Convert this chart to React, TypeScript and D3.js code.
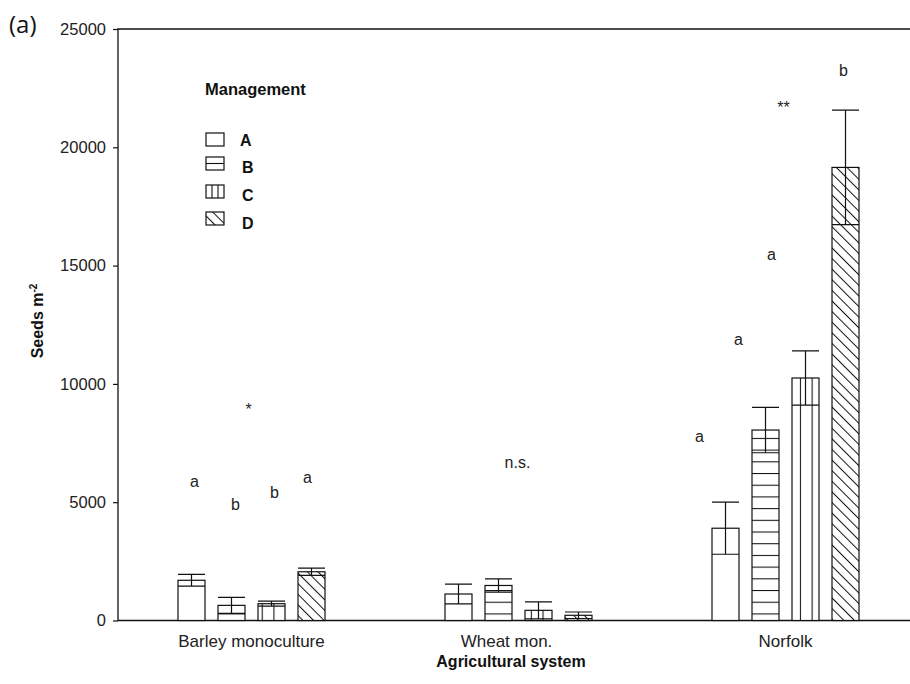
import React, { useEffect, useRef } from 'react';
import * as d3 from 'd3';

// data
const categories = ['Barley monoculture', 'Wheat mon.', 'Norfolk'];
const managements = ['A', 'B', 'C', 'D'];
const meanA = [1700, 1120, 3900];
const meanB = [640, 1480, 8050];
const meanC = [710, 430, 10250];
const meanD = [2060, 220, 19150];
const errA = [250, 420, 1100];
const errB = [340, 280, 960];
const errC = [105, 360, 1150];
const errD = [150, 140, 2420];
const yTicks = [0, 5000, 10000, 15000, 20000, 25000];

// significance letters: category, bar (or null for the group), y in seeds
const sigLetters = [
    { cat: 0, ser: 'A', y: 5660, text: 'a', dx: 3 },
    { cat: 0, ser: 'B', y: 4690, text: 'b', dx: 4 },
    { cat: 0, ser: 'C', y: 5190, text: 'b', dx: 3 },
    { cat: 0, ser: 'D', y: 5830, text: 'a', dx: -4 },
    { cat: 0, ser: null, y: 8700, text: '*', dx: -3 },
    { cat: 1, ser: null, y: 6460, text: 'n.s.', dx: -1 },
    { cat: 2, ser: 'A', y: 7560, text: 'a', dx: -26 },
    { cat: 2, ser: 'B', y: 11660, text: 'a', dx: -27 },
    { cat: 2, ser: 'C', y: 15250, text: 'a', dx: -34 },
    { cat: 2, ser: 'D', y: 23000, text: 'b', dx: -2 },
    { cat: 2, ser: null, y: 21450, text: '**', dx: -2 },
];

const means = [meanA, meanB, meanC, meanD];
const errs = [errA, errB, errC, errD];
const fills = ['#fff', 'url(#patB)', 'url(#patC)', 'url(#patD)'];

function App() {
    const svgRef = useRef<SVGSVGElement>(null);

    useEffect(() => {
        const svg = d3.select(svgRef.current);
        svg.selectAll('*').remove();

        const width = 910;
        const height = 684;
        const margin = { top: 29, left: 118, bottom: 63 };
        const font = '"Liberation Sans", Arial, sans-serif';
        const ink = '#111';

        svg.append('rect').attr('width', width).attr('height', height).attr('fill', '#fff');

        // hatch patterns
        const defs = svg.append('defs');
        const pB = defs.append('pattern').attr('id', 'patB')
            .attr('patternUnits', 'userSpaceOnUse').attr('y', 5).attr('width', 10).attr('height', 11.7);
        pB.append('rect').attr('width', 10).attr('height', 11.7).attr('fill', '#fff');
        pB.append('line').attr('x1', 0).attr('x2', 10).attr('y1', 0.5).attr('y2', 0.5)
            .attr('stroke', ink).attr('stroke-width', 1.1);
        const pC = defs.append('pattern').attr('id', 'patC')
            .attr('patternUnits', 'userSpaceOnUse').attr('x', 4.3).attr('width', 11.7).attr('height', 10);
        pC.append('rect').attr('width', 11.7).attr('height', 10).attr('fill', '#fff');
        pC.append('line').attr('x1', 0.5).attr('x2', 0.5).attr('y1', 0).attr('y2', 10)
            .attr('stroke', ink).attr('stroke-width', 1.1);
        const pD = defs.append('pattern').attr('id', 'patD')
            .attr('patternUnits', 'userSpaceOnUse').attr('width', 7.5).attr('height', 7.5)
            .attr('patternTransform', 'rotate(-45)');
        pD.append('rect').attr('width', 7.5).attr('height', 7.5).attr('fill', '#fff');
        pD.append('line').attr('x1', 0.5).attr('x2', 0.5).attr('y1', 0).attr('y2', 7.5)
            .attr('stroke', ink).attr('stroke-width', 1);

        const x0 = d3.scaleBand().domain(categories).range([margin.left, margin.left + 801]);
        const x1 = d3.scaleBand().domain(managements).range([-80, 80])
            .paddingInner(0.325).paddingOuter(0.1625);
        const y = d3.scaleLinear().domain([0, 25000]).range([height - margin.bottom - 0.5, margin.top]);

        // frame
        const right = margin.left + 801;
        svg.append('path')
            .attr('d', `M${right},${margin.top}H${margin.left}V${y(0)}H${right}`)
            .attr('fill', 'none').attr('stroke', ink).attr('stroke-width', 1.3);

        // y axis
        const yAxis = svg.append('g')
            .attr('transform', `translate(${margin.left},0)`)
            .call(d3.axisLeft(y).tickValues(yTicks).tickSize(5).tickPadding(7).tickFormat(d3.format('d')));
        yAxis.select('.domain').remove();
        yAxis.selectAll('line').attr('stroke', ink).attr('stroke-width', 1.2);
        yAxis.selectAll('text').style('font-family', font).style('font-size', '16.5px').style('fill', '#222');

        // bars
        const bw = x1.bandwidth();
        categories.forEach((cat, ci) => {
            managements.forEach((m, si) => {
                const cx = x0(cat)! + x0.bandwidth() / 2 + x1(m)! + bw / 2;
                const v = means[si][ci];
                const e = errs[si][ci];
                const g = svg.append('g');
                g.append('rect')
                    .attr('x', cx - bw / 2).attr('y', y(v))
                    .attr('width', bw).attr('height', y(0) - y(v))
                    .attr('fill', fills[si]).attr('stroke', ink).attr('stroke-width', 1.2);
                const lo = Math.max(0, v - e);
                g.append('path')
                    .attr('d', `M${cx},${y(lo)}V${y(v + e)}M${cx - bw / 2},${y(v + e)}H${cx + bw / 2}M${cx - bw / 2},${y(lo)}H${cx + bw / 2}`)
                    .attr('fill', 'none').attr('stroke', ink).attr('stroke-width', 1.2);
            });
        });

        // significance letters
        svg.append('g').selectAll('text').data(sigLetters).enter().append('text')
            .attr('x', d => {
                const base = x0(categories[d.cat])! + x0.bandwidth() / 2;
                return (d.ser ? base + x1(d.ser)! + bw / 2 : base) + d.dx;
            })
            .attr('y', d => y(d.y))
            .attr('text-anchor', 'middle')
            .style('font-family', font).style('font-size', '16px').style('fill', '#222')
            .text(d => d.text);

        // category labels
        svg.append('g').selectAll('text').data(categories).enter().append('text')
            .attr('x', d => x0(d)! + x0.bandwidth() / 2 + (d === 'Wheat mon.' ? -12 : 0))
            .attr('y', 647)
            .attr('text-anchor', 'middle')
            .style('font-family', font).style('font-size', '17px').style('fill', '#222')
            .text(d => d);

        // axis titles
        svg.append('text')
            .attr('x', 511).attr('y', 667)
            .attr('text-anchor', 'middle')
            .style('font-family', font).style('font-size', '16px').style('font-weight', 'bold').style('fill', ink)
            .text('Agricultural system');

        const yl = svg.append('text')
            .attr('transform', 'translate(43,321) rotate(-90)')
            .attr('text-anchor', 'middle')
            .style('font-family', font).style('font-size', '16px').style('font-weight', 'bold').style('fill', ink);
        yl.append('tspan').text('Seeds m');
        yl.append('tspan').attr('dy', -6).style('font-size', '10px').text('-2');

        svg.append('text')
            .attr('x', 9).attr('y', 33)
            .style('font-family', '"Open Sans", sans-serif').style('font-size', '24px').style('fill', ink)
            .text('(a)');

        // legend
        svg.append('text')
            .attr('x', 205).attr('y', 95)
            .style('font-family', font).style('font-size', '16.5px').style('font-weight', 'bold').style('fill', ink)
            .text('Management');
        const boxTops = [133, 157, 185, 212];
        const labelBase = [146, 173, 201, 229];
        const bx = 206, bWidth = 18, bHeight = 13;
        managements.forEach((m, i) => {
            const top = boxTops[i];
            svg.append('rect')
                .attr('x', bx).attr('y', top).attr('width', bWidth).attr('height', bHeight)
                .attr('fill', i === 3 ? fills[3] : '#fff').attr('stroke', ink).attr('stroke-width', 1.2);
            if (m === 'B') {
                svg.append('line').attr('x1', bx).attr('x2', bx + bWidth)
                    .attr('y1', top + bHeight / 2).attr('y2', top + bHeight / 2)
                    .attr('stroke', ink).attr('stroke-width', 1.1);
            }
            if (m === 'C') {
                [1, 2].forEach(k => {
                    svg.append('line').attr('x1', bx + k * bWidth / 3).attr('x2', bx + k * bWidth / 3)
                        .attr('y1', top).attr('y2', top + bHeight)
                        .attr('stroke', ink).attr('stroke-width', 1.1);
                });
            }
            svg.append('text')
                .attr('x', i === 0 ? 240 : 242).attr('y', labelBase[i])
                .style('font-family', font).style('font-size', '16px').style('font-weight', 'bold').style('fill', ink)
                .text(m);
        });
    }, []);

    return (
        <svg ref={svgRef} width={910} height={684}
            style={{ position: 'absolute', left: 0, top: 0, display: 'block' }} />
    );
}

export default App;
